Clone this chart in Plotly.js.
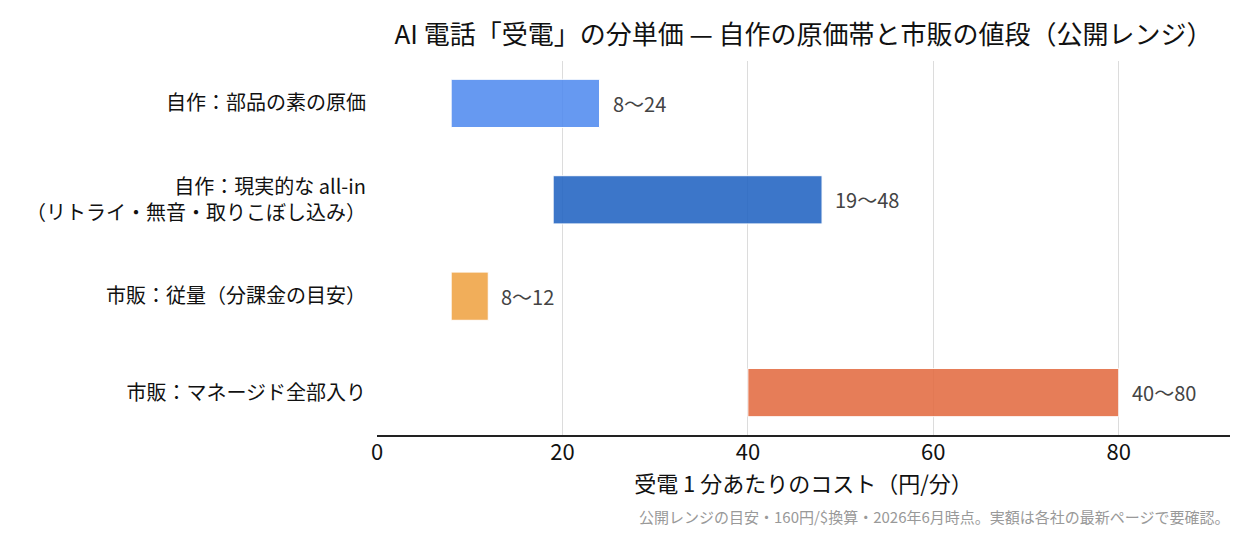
<!DOCTYPE html>
<html>
<head>
<meta charset="utf-8">
<script src="https://cdn.plot.ly/plotly-3.0.1.min.js"></script>
<style>
  html, body { margin: 0; padding: 0; background: #fff; }
  #chart { width: 1254px; height: 542px; }
</style>
</head>
<body>
<div id="chart"></div>
<script>
// 受電1分あたりの単価レンジ（円/分）
const categories = [
  '自作：部品の素の原価',
  '自作：現実的な all-in<br>（リトライ・無音・取りこぼし込み）',
  '市販：従量（分課金の目安）',
  '市販：マネージド全部入り'
];
const lowValues = [8, 19, 8, 40];
const highValues = [24, 48, 12, 80];
const barColors = ['#518bf0', '#2264c2', '#f0a344', '#e36c42'];
const xTicks = [0, 20, 40, 60, 80];

const font = '"Noto Sans CJK JP", "Noto Sans", sans-serif';

const trace = {
  type: 'bar',
  orientation: 'h',
  y: categories,
  base: lowValues,
  x: highValues.map((h, i) => h - lowValues[i]),
  width: 0.5,
  marker: {
    color: barColors,
    opacity: 0.88,
    line: { color: '#ffffff', width: 1 }
  },
  hoverinfo: 'skip'
};

// range labels to the right of each bar
const rangeLabels = categories.map((c, i) => ({
  x: highValues[i],
  y: c,
  xref: 'x',
  yref: 'y',
  text: lowValues[i] + '〜' + highValues[i],
  showarrow: false,
  xanchor: 'left',
  xshift: 11,
  font: { family: font, size: 20, color: '#444' }
}));

const layout = {
  width: 1254,
  height: 542,
  margin: { l: 377, r: 24, t: 61, b: 107 },
  paper_bgcolor: '#fff',
  plot_bgcolor: '#fff',
  font: { family: font, color: '#111' },
  showlegend: false,
  title: {
    text: 'AI 電話「受電」の分単価 — 自作の原価帯と市販の値段（公開レンジ）',
    x: 0.5,
    xref: 'paper',
    xanchor: 'center',
    y: 0.953,
    yref: 'container',
    font: { family: font, size: 26, color: '#111' }
  },
  xaxis: {
    range: [0, 92],
    tickvals: xTicks,
    ticktext: xTicks.map(String),
    showgrid: true,
    gridcolor: '#dcdcdc',
    gridwidth: 1,
    zeroline: false,
    showline: true,
    linecolor: '#222',
    linewidth: 2,
    ticks: '',
    ticklabelstandoff: -3,
    tickfont: { family: font, size: 22, color: '#111' },
    title: {
      text: '受電 1 分あたりのコスト（円/分）',
      standoff: 3,
      font: { family: font, size: 22, color: '#111' }
    }
  },
  yaxis: {
    type: 'category',
    categoryorder: 'array',
    categoryarray: categories,
    range: [3.44, -0.44],
    showgrid: false,
    zeroline: false,
    showline: false,
    ticks: '',
    ticklabelstandoff: 10,
    tickfont: { family: font, size: 20, color: '#111' }
  },
  annotations: rangeLabels.concat([{
    text: '公開レンジの目安・160円/$換算・2026年6月時点。実額は各社の最新ページで要確認。',
    xref: 'paper',
    yref: 'paper',
    x: 1.002,
    y: -0.217,
    xanchor: 'right',
    yanchor: 'middle',
    showarrow: false,
    font: { family: font, size: 15, color: '#999' }
  }])
};

Plotly.newPlot('chart', [trace], layout, { displayModeBar: false, staticPlot: true });
</script>
</body>
</html>
